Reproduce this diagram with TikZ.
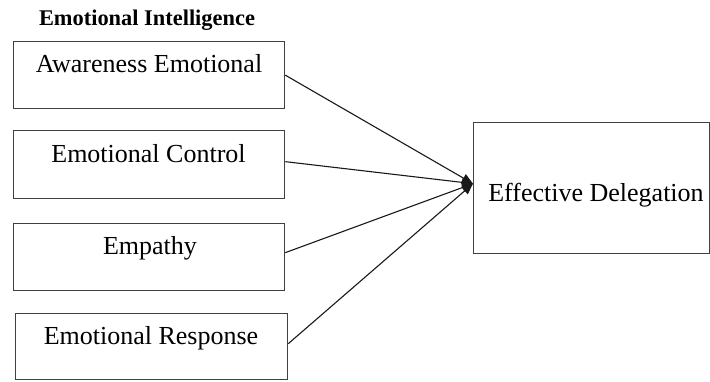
\documentclass[tikz,border=0pt]{standalone}
\usepackage{fontspec}
\setmainfont{Liberation Serif}
\usetikzlibrary{arrows.meta}
\begin{document}
\begin{tikzpicture}[x=1pt,y=-1pt,
  boxst/.style={draw=black!75,line width=1.3pt,inner sep=0pt,anchor=north west},
  lbl/.style={anchor=base,inner sep=0pt,font=\fontsize{26}{30}\selectfont},
  ttl/.style={anchor=base,inner sep=0pt,font=\bfseries\fontsize{22.4}{26}\selectfont},
  conn/.style={draw=black!90,line width=1.1pt,-{Triangle[length=11pt,width=9pt]}}]
\useasboundingbox (0,0) rectangle (710,381);
\node[ttl] (title) at (147,25) {Emotional Intelligence};
\node[boxst,minimum width=271pt,minimum height=67pt] (b1) at (13,41) {};
\node[boxst,minimum width=271pt,minimum height=68pt] (b2) at (13,130) {};
\node[boxst,minimum width=271pt,minimum height=67pt] (b3) at (13,223) {};
\node[boxst,minimum width=272pt,minimum height=66pt] (b4) at (15,313) {};
\node[boxst,minimum width=236pt,minimum height=131pt] (ed) at (473,122) {};
\node[lbl] (t1) at (149,72) {Awareness Emotional};
\node[lbl] (t2) at (148.5,162) {Emotional Control};
\node[lbl] (t3) at (150,254) {Empathy};
\node[lbl] (t4) at (151,344) {Emotional Response};
\node[lbl] (t5) at (596,201) {Effective Delegation};
\coordinate (tip) at ([yshift=4.5pt]ed.west);
\draw[conn] (b1.east) -- (tip);
\draw[conn] ([yshift=3pt]b2.east) -- (tip);
\draw[conn] ([yshift=4.5pt]b3.east) -- (tip);
\draw[conn] ([yshift=3pt]b4.east) -- (tip);
\end{tikzpicture}
\end{document}
